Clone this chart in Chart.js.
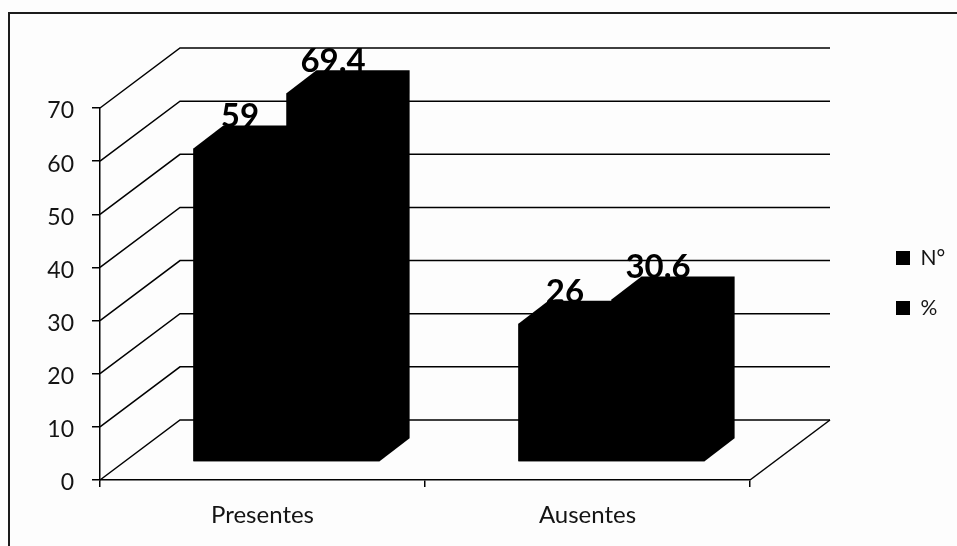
<!DOCTYPE html>
<html>
<head>
<meta charset="utf-8">
<script src="https://cdn.jsdelivr.net/npm/chart.js@4"></script>
<style>
  html, body { margin: 0; padding: 0; background: #fdfdfd; }
  canvas { display: block; }
</style>
</head>
<body>
<canvas id="chart" width="957" height="546"></canvas>
<script>
const categories = ['Presentes', 'Ausentes'];
const seriesNames = ['N°', '%'];
const countValues = [59, 26];
const percentValues = [69.4, 30.6];
const yTicks = [0, 10, 20, 30, 40, 50, 60, 70];

const INK = '#000000';
const TEXT = '#141414';

// Pseudo-3D geometry: the wall recedes from the axes, the bars stand on the floor.
const wallDepth = { x: 80, y: -60 };
const barShift = { x: 24, y: -18 };
const barDepth = { x: 30, y: -23 };

const frame3d = {
  id: 'frame3d',
  afterLayout(chart) {
    // Move the legend into the right margin beside the wall.
    const lg = chart.legend;
    const w = lg.right - lg.left, h = lg.bottom - lg.top;
    lg.left = 867; lg.right = 867 + w;
    lg.top = 97; lg.bottom = 97 + h;
  },
  beforeDraw(chart) {
    // Sheet edge: a rule along the top and down the left side
    const { ctx, width, height } = chart;
    ctx.save();
    ctx.strokeStyle = '#1c1c1c';
    ctx.lineWidth = 2;
    ctx.beginPath();
    ctx.moveTo(9, height);
    ctx.lineTo(9, 13);
    ctx.lineTo(width, 13);
    ctx.stroke();
    ctx.restore();
  },
  beforeDatasetsDraw(chart) {
    const { ctx, scales: { x, y } } = chart;
    ctx.save();
    ctx.strokeStyle = INK;
    ctx.lineWidth = 1.5;
    const far = x.right + wallDepth.x;
    yTicks.forEach((t) => {
      const py = y.getPixelForValue(t);
      ctx.beginPath();
      ctx.moveTo(x.left, py);
      ctx.lineTo(x.left + wallDepth.x, py + wallDepth.y);
      ctx.lineTo(far, py + wallDepth.y);
      ctx.stroke();
    });
    // Front edge of the floor
    const base = y.getPixelForValue(0);
    ctx.beginPath();
    ctx.moveTo(x.right, base);
    ctx.lineTo(far, base + wallDepth.y);
    ctx.stroke();
    ctx.restore();

    // Bars are drawn standing forward of the axis line.
    ctx.save();
    ctx.translate(barShift.x, barShift.y);
    chart.data.datasets.forEach((ds, i) => {
      chart.getDatasetMeta(i).data.forEach((bar) => {
        const l = bar.x - bar.width / 2, r = bar.x + bar.width / 2;
        ctx.fillStyle = ds.backgroundColor;
        ctx.beginPath();
        ctx.moveTo(l, bar.y);
        ctx.lineTo(l + barDepth.x, bar.y + barDepth.y);
        ctx.lineTo(r + barDepth.x, bar.y + barDepth.y);
        ctx.lineTo(r + barDepth.x, bar.base + barDepth.y);
        ctx.lineTo(r, bar.base);
        ctx.lineTo(l, bar.base);
        ctx.closePath();
        ctx.fill();
      });
    });
  },
  afterDatasetsDraw(chart) {
    const { ctx } = chart;
    ctx.restore();
    // Value labels above each bar's front edge
    ctx.save();
    ctx.font = 'bold 33px Lato';
    ctx.fillStyle = INK;
    ctx.textAlign = 'center';
    ctx.textBaseline = 'alphabetic';
    chart.data.datasets.forEach((ds, i) => {
      chart.getDatasetMeta(i).data.forEach((bar, j) => {
        ctx.fillText(String(ds.data[j]), bar.x + barShift.x, bar.y + barShift.y - 21);
      });
    });
    ctx.restore();
  }
};

new Chart(document.getElementById('chart'), {
  type: 'bar',
  data: {
    labels: categories,
    datasets: [
      { label: seriesNames[0], data: countValues, backgroundColor: INK, borderWidth: 0 },
      { label: seriesNames[1], data: percentValues, backgroundColor: INK, borderWidth: 0 }
    ]
  },
  options: {
    responsive: false,
    animation: false,
    events: [],
    layout: { padding: { top: 108, right: 207, left: 0, bottom: 0 } },
    datasets: { bar: { categoryPercentage: 0.573, barPercentage: 1, clip: false } },
    plugins: {
      title: { display: false },
      tooltip: { enabled: false },
      legend: {
        position: 'chartArea',
        labels: {
          boxWidth: 14, boxHeight: 14, padding: 29, color: TEXT,
          font: { family: 'Lato', size: 21 }
        }
      }
    },
    scales: {
      x: {
        afterFit(scale) { scale.height = 66; },
        border: { color: INK, width: 1.5 },
        grid: { display: true, drawOnChartArea: false, color: INK, lineWidth: 1.5, tickLength: 7, offset: true },
        ticks: { color: TEXT, padding: 14, maxRotation: 0, font: { family: 'Lato', size: 24 } }
      },
      y: {
        min: 0,
        max: 70,
        afterFit(scale) { scale.width = 100; },
        border: { color: INK, width: 1.5 },
        grid: { display: true, drawOnChartArea: false, color: INK, lineWidth: 1.5, tickLength: 8 },
        ticks: { stepSize: 10, color: TEXT, padding: 18, labelOffset: 3, font: { family: 'Lato', size: 23 } }
      }
    }
  },
  plugins: [frame3d]
});
</script>
</body>
</html>
